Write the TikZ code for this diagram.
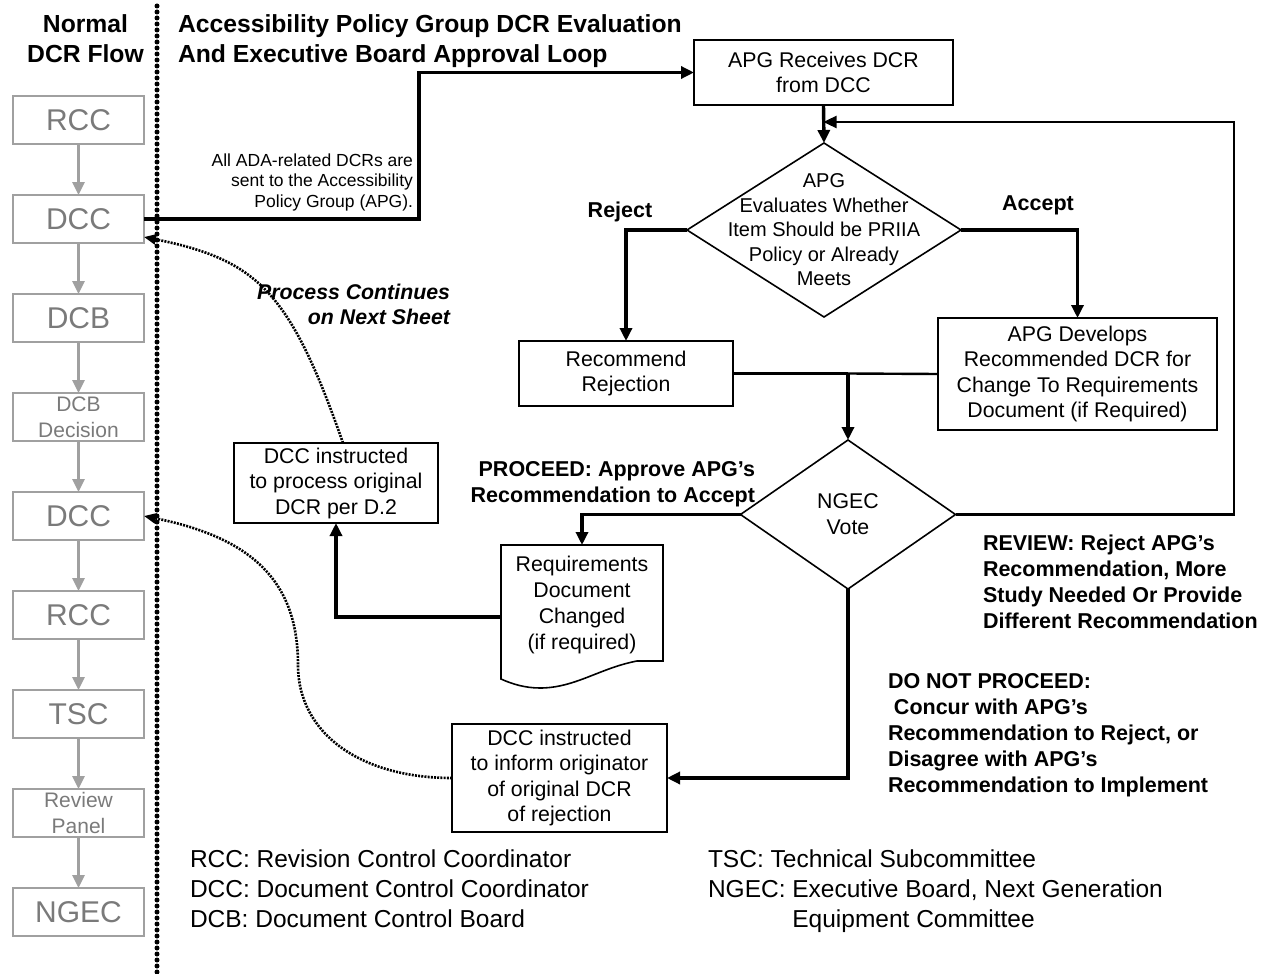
\documentclass[tikz,border=0pt]{standalone}
\usepackage{fontspec}
\setmainfont{Liberation Sans}
\usetikzlibrary{shapes.geometric,arrows.meta}
\definecolor{boxgray}{HTML}{A0A0A0}
\definecolor{textgray}{HTML}{7A7A7A}
\newcommand\myfs[2]{\fontsize{#1}{#2}\selectfont}
\begin{document}
\begin{tikzpicture}[x=1pt,y=-1pt,
  every node/.style={inner sep=0pt, outer sep=0pt},
  box/.style={draw, line width=1.6pt, align=center, font=\myfs{21.3}{25.5}},
  gbox/.style={draw=boxgray, line width=2.2pt, text=textgray, align=center,
    minimum width=131pt, minimum height=48pt, font=\myfs{30}{36}},
  gsmall/.style={font=\myfs{21}{26}},
  dia/.style={diamond, draw, line width=1.6pt},
  flow/.style={line width=3.4pt, -{Triangle[length=13pt,width=12pt]}},
  garr/.style={draw=boxgray, line width=2.6pt, -{Triangle[length=13pt,width=12pt]}},
  dotarr/.style={line width=2.6pt, dash pattern=on 2pt off 1.2pt, -{Triangle[length=12pt,width=10pt]}},
  lbl/.style={font=\bfseries\myfs{21.5}{26}},
  legend/.style={font=\myfs{24.5}{30}, align=left, anchor=west}
]
\useasboundingbox (0,0) rectangle (1270,974);

% divider
\draw[line width=5pt, line cap=round, dash pattern=on 0pt off 6pt] (157,6) -- (157,974);

% headings
\node[font=\bfseries\myfs{24.7}{30}, align=center] (hleft) at (85.5,39) {Normal\\DCR Flow};
\node[font=\bfseries\myfs{24.7}{30}, align=left, anchor=west] (hright) at (178,41.5)
  {Accessibility Policy Group DCR Evaluation\\And Executive Board Approval Loop};

% normal flow column
\node[gbox] (g1) at (78.5,120) {RCC};
\node[gbox] (g2) at (78.5,219) {DCC};
\node[gbox] (g3) at (78.5,318) {DCB};
\node[gbox,gsmall] (g4) at (78.5,417) {DCB\\Decision};
\node[gbox] (g5) at (78.5,516) {DCC};
\node[gbox] (g6) at (78.5,615) {RCC};
\node[gbox] (g7) at (78.5,714) {TSC};
\node[gbox,gsmall] (g8) at (78.5,813) {Review\\Panel};
\node[gbox] (g9) at (78.5,912) {NGEC};
\foreach \a/\b in {g1/g2,g2/g3,g3/g4,g4/g5,g5/g6,g6/g7,g7/g8,g8/g9}
  \draw[garr] (\a.south) -- (\b.north);

% APG loop
\node[box, minimum width=259pt, minimum height=65pt] (apgrec) at (823.5,72.5) {APG Receives DCR\\from DCC};
\node[dia, minimum width=274pt, minimum height=174pt,
  label={[font=\myfs{20}{24.5}, align=center]center:{APG\\Evaluates Whether\\Item Should be PRIIA\\Policy or Already\\Meets}}] (eval) at (824,230) {};
\node[box, minimum width=214pt, minimum height=65pt] (rej) at (626,373.5) {Recommend\\Rejection};
\node[box, minimum width=279pt, minimum height=112pt] (dev) at (1077.5,374)
  {APG Develops\\Recommended DCR for\\Change To Requirements\\Document (if Required)};
\node[dia, minimum width=215pt, minimum height=149pt,
  label={[font=\myfs{21.3}{26}, align=center]center:{NGEC\\Vote}}] (ngec) at (848,514.5) {};
\node[align=center, font=\myfs{21.3}{26}, minimum width=162pt, minimum height=120pt] (req) at (582,605)
  {Requirements\\Document\\Changed\\(if required)};
\draw[line width=1.6pt] (501,545) -- (663,545) -- (663,661) -- (637,661)
  .. controls (600,668) and (575,688) .. (540,688)
  .. controls (525,688) and (512,684) .. (501,679) -- cycle;
\node[box, minimum width=204pt, minimum height=80pt] (proc) at (336,483)
  {DCC instructed\\to process original\\DCR per D.2};
\node[box, minimum width=215pt, minimum height=108pt] (inform) at (559.5,778)
  {DCC instructed\\to inform originator\\of original DCR\\of rejection};

% labels
\node[font=\myfs{17.5}{20.5}, align=right, anchor=east] (note) at (413,182)
  {All ADA-related DCRs are\\sent to the Accessibility\\Policy Group (APG).};
\node[font=\bfseries\itshape\myfs{21.3}{25}, align=right, anchor=east] (cont) at (450,304)
  {Process Continues\\on Next Sheet};
\node[lbl, anchor=base] (lrej) at (620,217) {Reject};
\node[lbl, anchor=base] (lacc) at (1038,210) {Accept};
\node[lbl, align=right, anchor=east] (lpro) at (755,484.5) {PROCEED: Approve APG’s\\Recommendation to Accept};
\node[lbl, align=left, anchor=west] (lrev) at (983,581.5)
  {REVIEW: Reject APG’s\\Recommendation, More\\Study Needed Or Provide\\Different Recommendation};
\node[lbl, align=left, anchor=west] (ldnp) at (888,735)
  {DO NOT PROCEED:\\\ Concur with APG’s\\Recommendation to Reject, or\\Disagree with APG’s\\Recommendation to Implement};

% legend
\node[legend] (leg1) at (190,889)
  {RCC: Revision Control Coordinator\\DCC: Document Control Coordinator\\DCB: Document Control Board};
\node[legend] (leg2) at (708,891.5)
  {TSC: Technical Subcommittee\\NGEC: Executive Board, Next Generation\\\phantom{NGEC:\ }Equipment Committee};

% connectors
\draw[flow] (g2.east) -- ++(275,0) |- (apgrec.west);
\draw[flow] (apgrec.south) -- (eval.north);
\draw[flow] (eval.west) -| (rej.north);
\draw[flow] (eval.east) -| (dev.north);
\coordinate (j) at (ngec.north |- rej.east);
\draw[line width=3.4pt] (rej.east) -- (j);
\draw[line width=2.4pt] (j) -- (dev.west);
\draw[flow] (j) -- (ngec.north);
\draw[flow] (ngec.west) -| (req.north);
\draw[flow] ([yshift=-12pt]req.west) -| (proc.south);
\draw[flow] (ngec.south) |- (inform.east);
\coordinate (lp) at (1234,122);
\draw[line width=2.4pt, -{Triangle[length=13pt,width=12pt]}] (ngec.east) -| (lp) -- (apgrec.south |- lp);

% dotted curves
\draw[dotarr] ([xshift=7pt]proc.north) .. controls (290,292) and (258,260) .. ([yshift=-18pt]g2.east);
\draw[dotarr] (inform.west) .. controls (360,778) and (298,733) .. (298,665)
  .. controls (298,582) and (253,538) .. (g5.east);
\end{tikzpicture}
\end{document}
